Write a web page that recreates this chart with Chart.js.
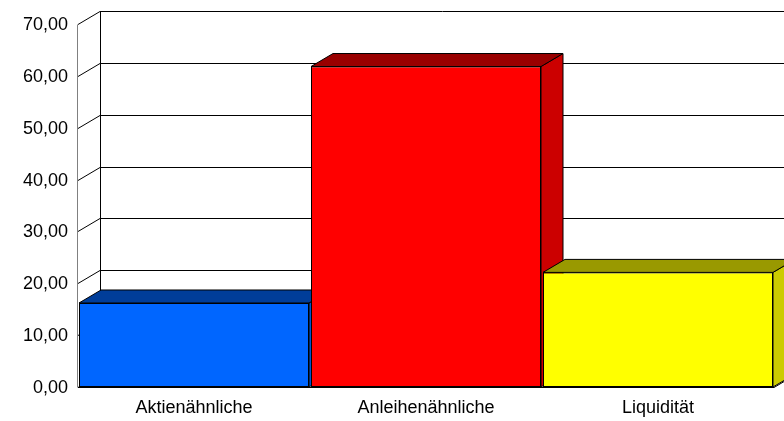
<!DOCTYPE html>
<html><head><meta charset="utf-8">
<script src="https://cdn.jsdelivr.net/npm/chart.js@4.4.1/dist/chart.umd.min.js"></script>
<style>html,body{margin:0;padding:0;background:#fff;}canvas{display:block;}</style>
</head><body>
<canvas id="c" width="784" height="421"></canvas>
<script>
const categories = ['Aktienähnliche', 'Anleihenähnliche', 'Liquidität'];
const values = [16.2, 61.8, 22.1];
const yTicks = [0, 10, 20, 30, 40, 50, 60, 70];

const faceColors = ['#0066FF', '#FF0000', '#FFFF00'];
const topColors = ['#003D99', '#990000', '#999900'];
const sideColors = ['#0052CC', '#CC0000', '#CCCC00'];
const DX = 22, DY = 13;

const threeD = {
  id: 'threeD',
  beforeDatasetsDraw(chart) {
    const ctx = chart.ctx, ca = chart.chartArea, ys = chart.scales.y;
    ctx.save();
    ctx.lineWidth = 1;
    ctx.strokeStyle = '#000';
    yTicks.forEach(v => {
      const yf = Math.round(ys.getPixelForValue(v)) + 0.5;
      ctx.beginPath();
      ctx.moveTo(ca.left, yf);
      ctx.lineTo(ca.left + DX, yf - DY);
      ctx.lineTo(ca.right + DX, yf - DY);
      ctx.stroke();
    });
    const bx = Math.round(ca.left + DX) + 0.5;
    ctx.beginPath();
    ctx.moveTo(bx, Math.round(ys.getPixelForValue(70)) + 0.5 - DY);
    ctx.lineTo(bx, Math.round(ys.getPixelForValue(0)) + 0.5 - DY);
    ctx.stroke();
    const yb = Math.round(ys.getPixelForValue(0)) + 0.5;
    ctx.beginPath();
    ctx.moveTo(ca.left, yb);
    ctx.lineTo(ca.right, yb);
    ctx.lineTo(ca.right + DX, yb - DY);
    ctx.stroke();
    ctx.strokeStyle = '#808080';
    const ax = Math.round(ca.left) - 0.5;
    ctx.beginPath();
    ctx.moveTo(ax, Math.round(ys.getPixelForValue(70)) + 0.5);
    ctx.lineTo(ax, yb);
    ctx.stroke();

    ctx.strokeStyle = '#000';
    const meta = chart.getDatasetMeta(0);
    meta.data.forEach((bar, i) => {
      const p = bar.getProps(['x', 'y', 'base', 'width'], true);
      const l = p.x - p.width / 2, r = p.x + p.width / 2;
      const yt = p.y, b = p.base;
      ctx.fillStyle = sideColors[i];
      ctx.beginPath();
      ctx.moveTo(r, yt); ctx.lineTo(r + DX, yt - DY); ctx.lineTo(r + DX, b - DY); ctx.lineTo(r, b);
      ctx.closePath(); ctx.fill(); ctx.stroke();
      ctx.fillStyle = topColors[i];
      ctx.beginPath();
      ctx.moveTo(l, yt); ctx.lineTo(l + DX, yt - DY); ctx.lineTo(r + DX, yt - DY); ctx.lineTo(r, yt);
      ctx.closePath(); ctx.fill(); ctx.stroke();
    });
    ctx.restore();
  }
};

const FONT = { family: "'Liberation Sans', Arial, sans-serif", size: 18 };

new Chart(document.getElementById('c'), {
  type: 'bar',
  data: {
    labels: categories,
    datasets: [{
      data: values,
      backgroundColor: faceColors,
      borderColor: '#000',
      borderWidth: 1,
      borderSkipped: false,
      categoryPercentage: 1,
      barPercentage: 230 / 232
    }]
  },
  options: {
    responsive: false,
    animation: false,
    events: [],
    layout: { padding: { top: 24, right: 10, left: 0, bottom: 0 } },
    plugins: { legend: { display: false }, tooltip: { enabled: false } },
    scales: {
      x: {
        grid: { display: false, drawTicks: false },
        border: { display: false },
        ticks: { color: '#000', font: FONT, padding: 10, maxRotation: 0 },
        afterFit(s) { s.height = 34; }
      },
      y: {
        min: 0, max: 70,
        grid: { display: false, drawTicks: false },
        border: { display: false },
        ticks: {
          stepSize: 10, color: '#000', font: FONT, padding: 10, labelOffset: 1,
          callback: v => v.toFixed(2).replace('.', ',')
        },
        afterFit(s) { s.width = 78; }
      }
    }
  },
  plugins: [threeD]
});
</script>
</body></html>
